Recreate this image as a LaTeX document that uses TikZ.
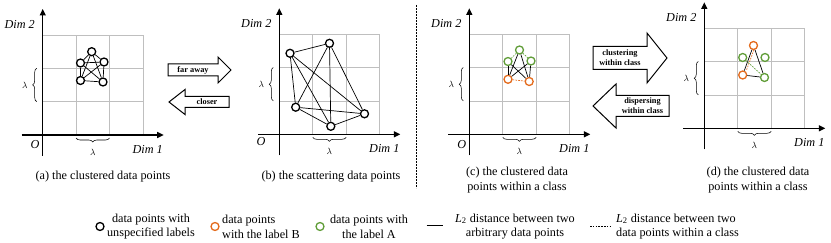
\documentclass[tikz,border=0pt]{standalone}
\usepackage{fontspec}
\setmainfont{Liberation Serif}
\usetikzlibrary{decorations.pathreplacing,arrows.meta}
\definecolor{orgB}{RGB}{228,108,30}
\definecolor{grnA}{RGB}{98,158,58}
\tikzset{
  gridline/.style={draw=gray!50, line width=0.55pt},
  axisline/.style={line width=1.25pt, -{Triangle[length=6.5pt,width=6pt]}},
  bracel/.style={decorate, decoration={brace, amplitude=4pt}, line width=0.55pt},
  pt/.style={circle, draw=black, line width=1.3pt, fill=white, minimum size=8pt, inner sep=0pt},
  ptB/.style={pt, draw=orgB},
  ptA/.style={pt, draw=grnA},
  link/.style={line width=0.7pt, black},
  linkB/.style={line width=0.7pt, orgB, dash pattern=on 1.6pt off 1.2pt},
  linkA/.style={line width=0.7pt, grnA, dash pattern=on 1.6pt off 1.2pt},
  dimlab/.style={font=\fontsize{12.2}{14}\selectfont\itshape, inner sep=0pt},
  lam/.style={font=\fontsize{9.5}{10}\selectfont, inner sep=0pt},
  captxt/.style={font=\fontsize{12.2}{14.5}\selectfont, align=center, inner sep=0pt},
  legtxt/.style={font=\fontsize{12.2}{14.8}\selectfont, inner sep=0pt},
  bigarrow/.style={draw=black, line width=1pt, fill=white, line join=miter},
  arrlab/.style={font=\fontsize{8.3}{10.3}\selectfont\bfseries, align=center, inner sep=0pt},
  sepline/.style={line width=1.2pt, dash pattern=on 2pt off 1pt},
}
\newcommand\panelgrid[3]{%
  \coordinate (#1O) at (#2,#3);
  \foreach \i in {1,2,3} {
    \draw[gridline] ({#2+\i*33.4},#3) -- ({#2+\i*33.4},{#3-100.2});
    \draw[gridline] (#2,{#3-\i*33.4}) -- ({#2+100.2},{#3-\i*33.4});
  }
  \coordinate (#1xs) at ({#2-21},#3);
  \coordinate (#1xe) at ({#2+121},#3);
  \coordinate (#1ys) at (#2,{#3+21});
  \coordinate (#1ye) at (#2,{#3-126});
  \draw[axisline] (#1xs) -- (#1xe);
  \draw[axisline] (#1ys) -- (#1ye);
  \draw[bracel] ({#2-6},{#3-33.4}) -- ({#2-6},{#3-66.8});
  \draw[bracel] ({#2+66.8},{#3+3}) -- ({#2+33.4},{#3+3});
  \node[lam] (#1lamL) at ({#2-18},{#3-50.1}) {$\lambda$};
  \node[lam] (#1lamB) at ({#2+50.1},{#3+17}) {$\lambda$};
  \node[dimlab] (#1dimB) at ({#2-23},{#3-111}) {Dim 2};
  \node[dimlab] (#1dimA) at ({#2+105},{#3+14}) {Dim 1};
}
\begin{document}
\begin{tikzpicture}[x=1pt,y=-1pt]
\useasboundingbox (0,0) rectangle (831,243);

% ---------- panel (a)
\panelgrid{a}{42.7}{135}
\node[dimlab] (aOl) at (35,145) {O};
\node[pt] (a1) at (91.7,51.7) {};
\node[pt] (a2) at (80.5,63) {};
\node[pt] (a3) at (104,62) {};
\node[pt] (a4) at (80.5,80.5) {};
\node[pt] (a5) at (103,82) {};
\foreach \u/\v in {1/2,1/3,1/4,1/5,2/3,2/4,2/5,3/4,3/5,4/5}
  \draw[link] (a\u) -- (a\v);
\node[captxt] (acap) at (103,177) {(a) the clustered data points};

% ---------- arrows (a)-(b)
\draw[bigarrow] (168,64) -- (218,64) -- (218,57) -- (231,70) -- (218,83) -- (218,76) -- (168,76) -- cycle;
\node[arrlab] (far) at (193,70) {far away};
\draw[bigarrow] (169,102) -- (185,89.5) -- (185,96.5) -- (229,96.5) -- (229,107.5) -- (185,107.5) -- (185,114.5) -- cycle;
\node[arrlab] (closer) at (207,102) {closer};

% ---------- panel (b)
\panelgrid{b}{279.3}{134.3}
\node[dimlab] (bOl) at (261,142) {O};
\node[pt] (b1) at (290,53.3) {};
\node[pt] (b2) at (329.5,43.3) {};
\node[pt] (b3) at (295.7,107.2) {};
\node[pt] (b4) at (364.5,113.8) {};
\node[pt] (b5) at (330.8,126.3) {};
\foreach \u/\v in {1/2,1/3,1/4,1/5,2/3,2/4,2/5,3/4,3/5,4/5}
  \draw[link] (b\u) -- (b\v);
\node[captxt] (bcap) at (331,177) {(b) the scattering data points};

% ---------- separator
\coordinate (sepT) at (416.7,5);
\coordinate (sepB) at (416.7,188);
\draw[sepline] (sepT) -- (sepB);

% ---------- panel (c)
\panelgrid{c}{469.3}{134.3}
\node[dimlab] (cOl) at (461.7,145) {O};
\node[ptA] (c1) at (519.5,50) {};
\node[ptA] (c2) at (508,61.5) {};
\node[ptA] (c3) at (531,61) {};
\node[ptB] (c4) at (508,79.3) {};
\node[ptB] (c5) at (529.2,81.5) {};
\foreach \u/\v in {1/4,1/5,2/5,3/4,2/4,3/5}
  \draw[link] (c\u) -- (c\v);
\draw[linkA] (c1) -- (c3);
\draw[linkA] (c1) -- (c2);
\draw[linkB] (c4) -- (c5);
\node[captxt] (ccap) at (517,180) {(c) the clustered data\\points within a class};

% ---------- arrows (c)-(d)
\draw[bigarrow] (593,46.5) -- (647,46.5) -- (647,33) -- (667,58) -- (647,83) -- (647,69.5) -- (593,69.5) -- cycle;
\node[arrlab] (clus) at (620,58) {clustering\\within class};
\draw[bigarrow] (593,106) -- (616,84) -- (616,95.5) -- (669,95.5) -- (669,116.5) -- (616,116.5) -- (616,128) -- cycle;
\node[arrlab] (disp) at (642.5,106) {dispersing\\within class};

% ---------- panel (d)
\panelgrid{d}{704.3}{128.3}
\node[ptB] (d1) at (753.5,45.5) {};
\node[ptA] (d2) at (742.7,57.5) {};
\node[ptA] (d3) at (765,57.5) {};
\node[ptB] (d4) at (742.7,75) {};
\node[ptA] (d5) at (764.5,77.5) {};
\draw[link] (d1) -- (d4);
\draw[link] (d1) -- (d5);
\draw[link] (d4) -- (d5);
\draw[linkB, transform canvas={xshift=2pt}] (d1) -- (d4);
\draw[linkA] (d2) -- (d5);
\node[captxt] (dcap) at (758,180) {(d) the clustered data\\points within a class};

% ---------- legend
\node[pt] (lgK) at (100,226.5) {};
\node[legtxt, align=center] (lgKt) at (151,226.5) {data points with\\unspecified labels};
\node[ptB] (lgB) at (215,226.5) {};
\node[legtxt, align=left, anchor=west] (lgBt) at (222,226.5) {data points\\with the label B};
\node[ptA] (lgA) at (320,226.5) {};
\node[legtxt, align=center] (lgAt) at (369,226.5) {data points with\\the label A};
\coordinate (lgS1) at (426.7,225);
\coordinate (lgS2) at (443.3,225);
\draw[link] (lgS1) -- (lgS2);
\node[legtxt, align=center] (lgSt) at (515,226.5) {\textit{L}\textsubscript{2} distance between two\\arbitrary data points};
\coordinate (lgD1) at (590,226);
\coordinate (lgD2) at (610,226);
\draw[link, dash pattern=on 1.6pt off 1.2pt] (lgD1) -- (lgD2);
\node[legtxt, align=left, anchor=west] (lgDt) at (616,226.5) {\textit{L}\textsubscript{2} distance between two\\data points within a class};
\end{tikzpicture}
\end{document}
